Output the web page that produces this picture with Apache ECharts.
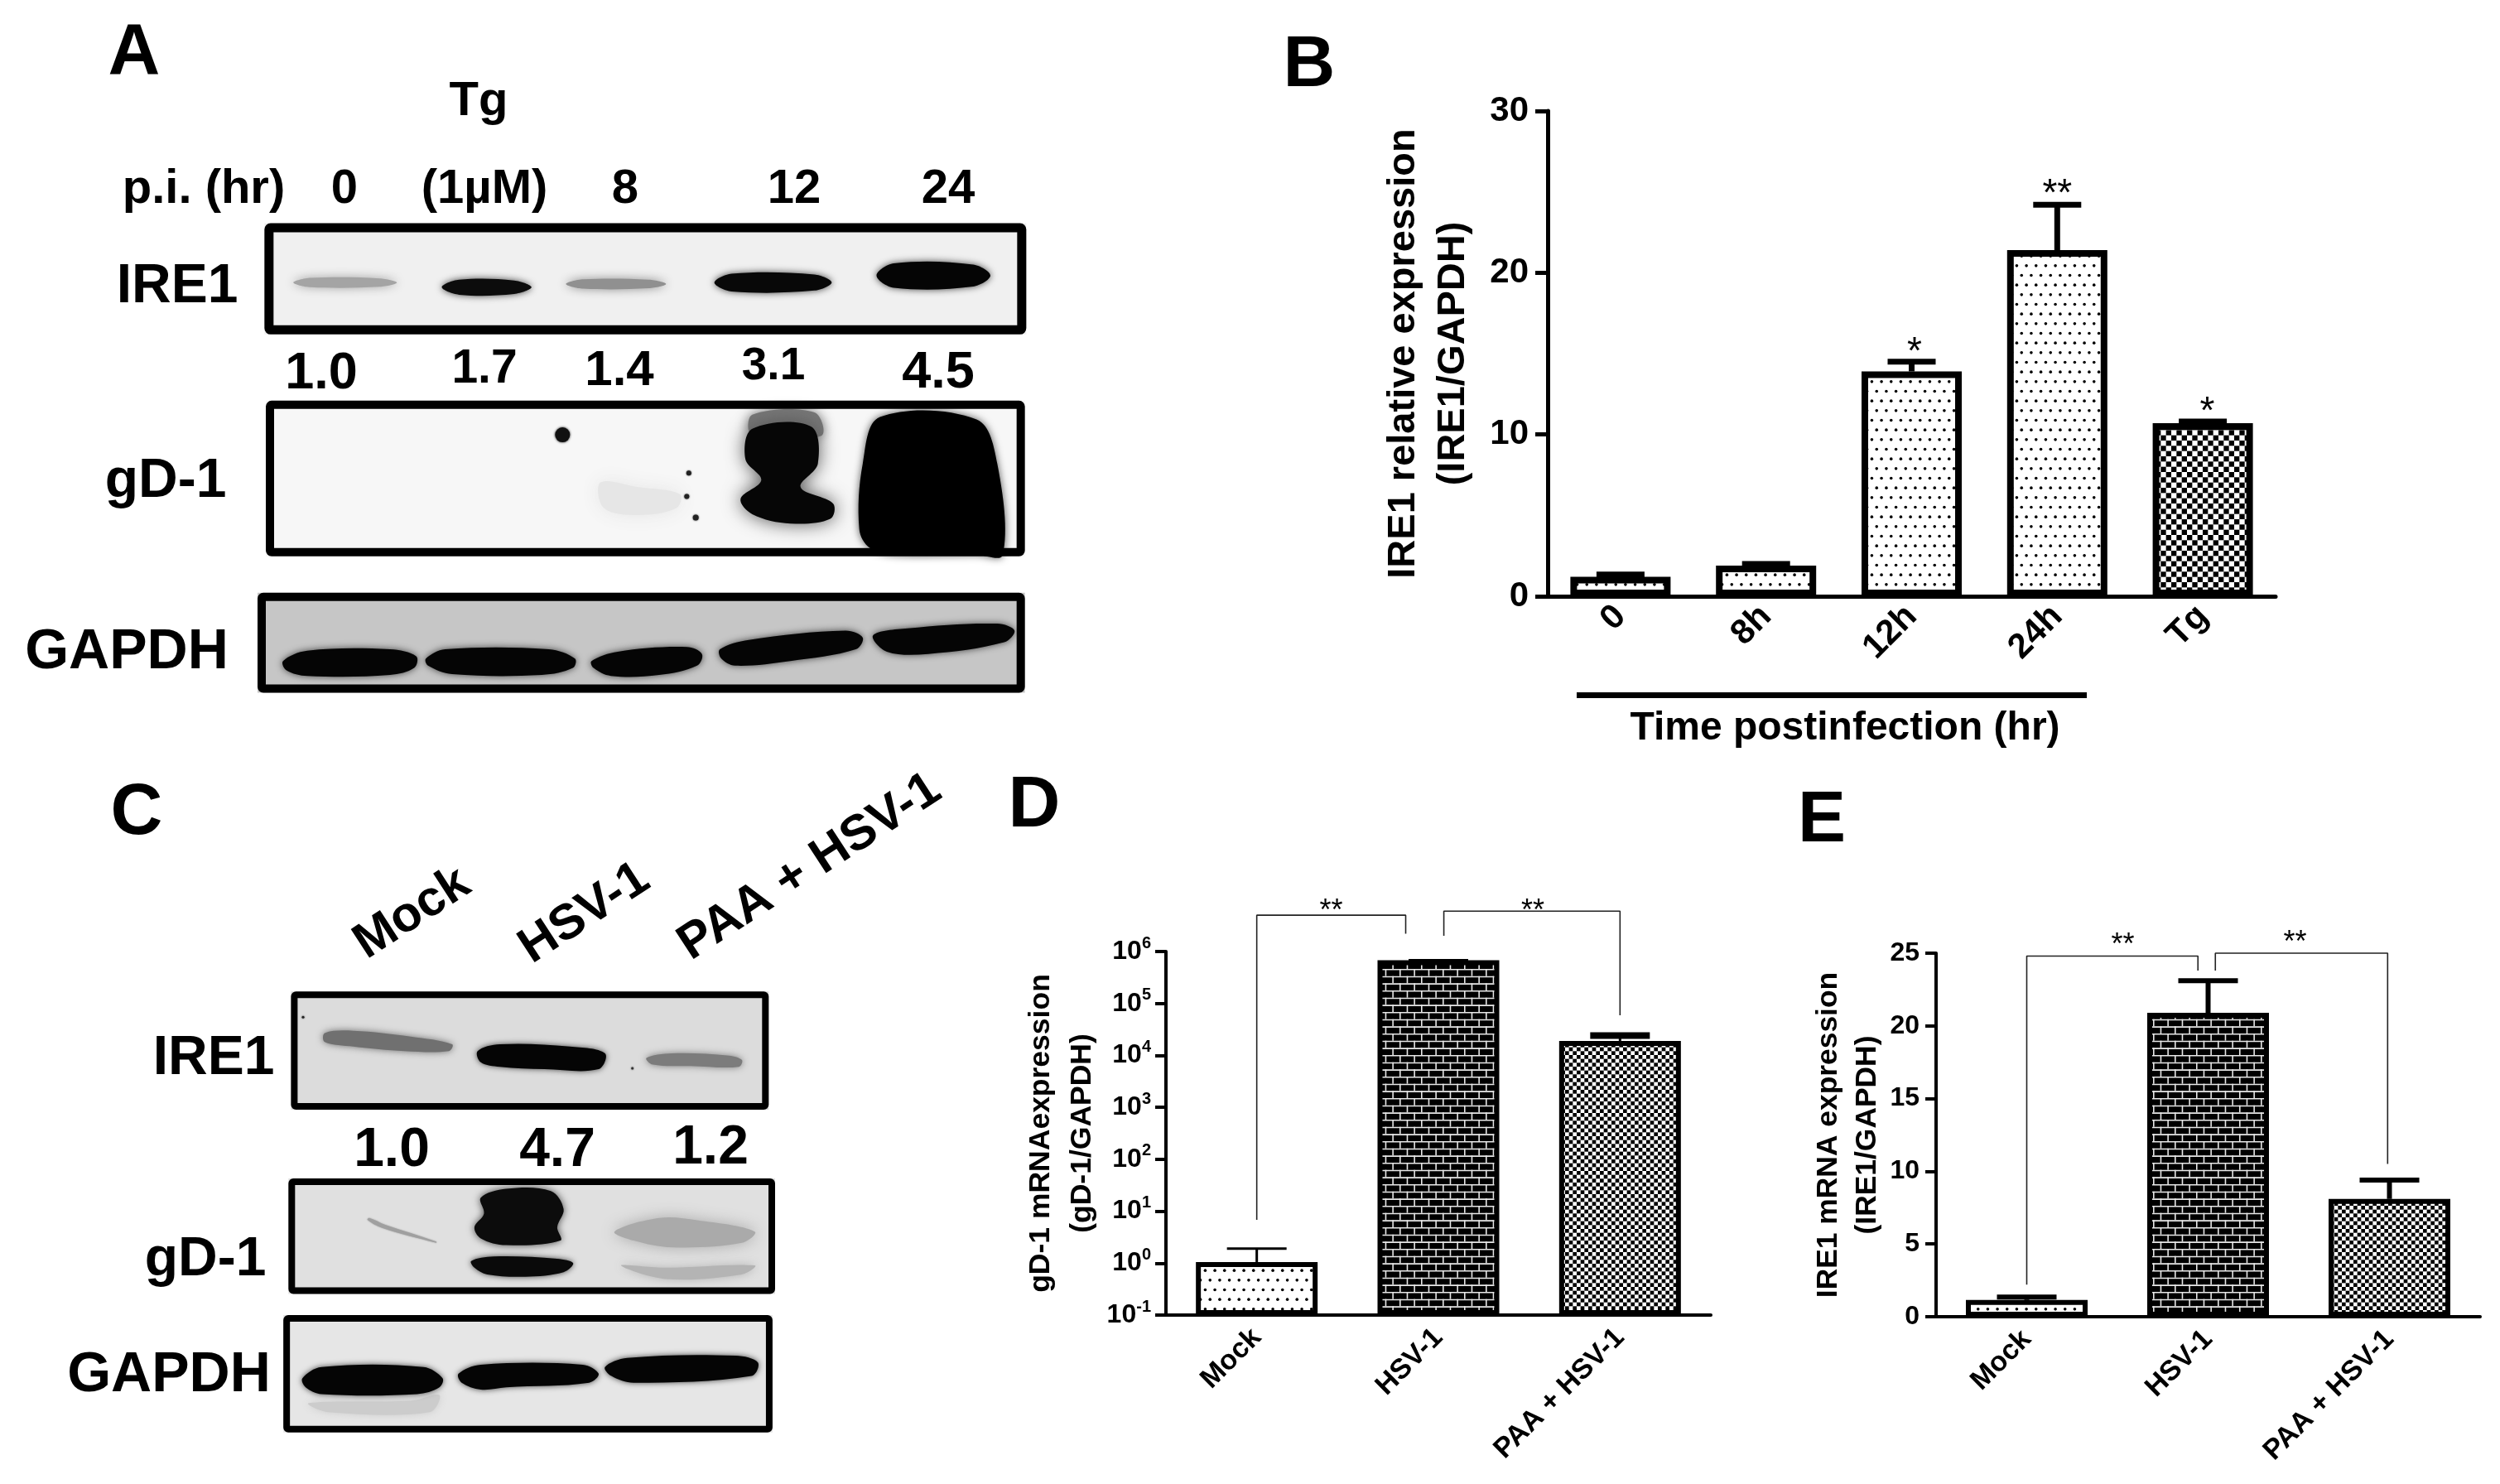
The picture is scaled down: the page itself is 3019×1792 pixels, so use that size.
<!DOCTYPE html>
<html><head><meta charset="utf-8"><style>html,body{margin:0;background:#fff}#c{width:3019px;height:1792px}</style>
<script src="https://cdn.jsdelivr.net/npm/echarts@6/dist/echarts.min.js"></script></head><body><div id="c"></div><script>
// ---------- data ----------
const bCategories = ['0','8h','12h','24h','Tg'];
const bValues = [1.2,1.9,13.9,21.4,10.7];
const bUpper  = [1.35,2.0,14.5,24.2,10.8];
const cdeCategories = ['Mock','HSV-1','PAA + HSV-1'];
const dValues = [1.05,680000,19000];
const dUpper  = [1.9,680000,24000];
const eValues = [1.15,20.9,8.1];
const eUpper  = [1.35,23.1,9.4];
const bStars = [[2.02,15.5,'*'],[3,25.3,'**'],[4.03,11.8,'*']];
const dStars = [[0.41,7.5e6,'**'],[1.52,7.6e6,'**']];
const eStars = [[0.53,25.9,'**'],[1.48,26.1,'**']];
const dBrackets = [[[0,6.8],[0,5e6],[0.82,5e6],[0.82,2.2e6]],[[1.03,2e6],[1.03,6e6],[2,6e6],[2,5.9e4]]];
const eBrackets = [[[0,2.2],[0,24.8],[0.944,24.8],[0.944,23.8]],[[1.04,23.8],[1.04,25],[1.99,25],[1.99,10.5]]];
const aLanes = ['0','(1µM)','8','12','24'];
const aRatios = ['1.0','1.7','1.4','3.1','4.5'];
const cLanes = ['Mock','HSV-1','PAA + HSV-1'];
const cRatios = ['1.0','4.7','1.2'];

// ---------- fill patterns ----------
function tile(w,h,draw){const c=document.createElement('canvas');c.width=w;c.height=h;const g=c.getContext('2d');g.fillStyle='#fff';g.fillRect(0,0,w,h);g.fillStyle='#000';g.strokeStyle='#000';draw(g);return {image:c,repeat:'repeat'};}
const dots = tile(70,70,g=>{const s=70/6;for(let r=0;r<6;r++)for(let k=0;k<6;k++){g.beginPath();g.arc((k+(r%2?0.75:0.25))*s,(r+.5)*s,1.8,0,7);g.fill();}});
const bricks = tile(52,52,g=>{g.fillStyle='#000';g.fillRect(0,0,52,52);g.strokeStyle='#e8e8e8';g.lineWidth=1.6;const h=52/6,w=52/3;for(let r=0;r<6;r++){g.beginPath();g.moveTo(0,r*h+.8);g.lineTo(52,r*h+.8);g.stroke();for(let k=0;k<3;k++){const x=(k+(r%2?.5:0))*w+.8;g.beginPath();g.moveTo(x,r*h);g.lineTo(x,r*h+h);g.stroke();}}});
const checkB = tile(38,38,g=>{const n=38/6;for(let r=0;r<6;r++)for(let k=0;k<6;k++)if((r+k)%2)g.fillRect(k*n,r*n,n,n);});
const checkD = tile(28,28,g=>{const n=28/6;for(let r=0;r<6;r++)for(let k=0;k<6;k++)if((r+k)%2)g.fillRect(k*n,r*n,n,n);});

// ---------- chart helpers ----------
const F='"Liberation Sans",Arial,sans-serif';
function bars(xi,yi,vals,fills,bw,bord){return {type:'bar',xAxisIndex:xi,yAxisIndex:yi,barWidth:bw,animation:false,z:3,
  data:vals.map((v,i)=>({value:v,itemStyle:{color:fills[i],borderColor:'#000',borderWidth:bord}}))};}
function errs(xi,yi,vals,up,cap,lw,thick){return {type:'custom',xAxisIndex:xi,yAxisIndex:yi,animation:false,z:2,
  data:vals.map((v,i)=>[i,v,up[i]]),encode:{x:0,y:[1,2]},clip:false,
  renderItem(p,api){const i=api.value(0),a=api.coord([i,api.value(1)]),b=api.coord([i,api.value(2)]);
    const w=thick&&thick[i]?thick[i]:lw;
    return {type:'group',children:[
      {type:'line',shape:{x1:a[0],y1:a[1],x2:b[0],y2:b[1]},style:{stroke:'#000',lineWidth:lw}},
      {type:'line',shape:{x1:b[0]-cap/2,y1:b[1],x2:b[0]+cap/2,y2:b[1]},style:{stroke:'#000',lineWidth:w}}]};}};}
function stars(xi,yi,list,fs){return {type:'custom',xAxisIndex:xi,yAxisIndex:yi,animation:false,clip:false,z:5,
  data:list.map(s=>[s[0],s[1]]),encode:{x:0,y:1},
  renderItem(p,api){const c=api.coord([api.value(0),api.value(1)]);
    return {type:'text',x:c[0],y:c[1]+fs*0.2,style:{text:list[p.dataIndex][2],fill:'#000',font:fs+'px '+F,align:'center',verticalAlign:'middle'}};}};}
function bracket(xi,yi,pts){return {type:'line',xAxisIndex:xi,yAxisIndex:yi,data:pts,symbol:'none',clip:false,animation:false,lineStyle:{color:'#222',width:1.6},z:4};}
const hiddenX=g=>({type:'value',gridIndex:g,show:false,min:-0.5,max:g==0?4.5:2.5});
function catX(g,data,opt){return {type:'category',gridIndex:g,data,boundaryGap:true,
  axisLine:{lineStyle:{color:'#000',width:opt.lw},onZero:false},axisTick:{alignWithLabel:true,length:opt.tick,lineStyle:{color:'#000',width:opt.lw}},
  axisLabel:{rotate:45,interval:0,margin:opt.margin,color:'#000',fontFamily:F,fontWeight:'bold',fontSize:opt.fs},splitLine:{show:false}};}
function valY(g,opt){return Object.assign({gridIndex:g,nameLocation:'middle',nameRotate:90,name:opt.name,nameGap:opt.gap,
  nameTextStyle:{color:'#000',fontFamily:F,fontWeight:'bold',fontSize:opt.nfs,lineHeight:opt.lh},
  axisLine:{show:true,onZero:false,lineStyle:{color:'#000',width:opt.lw}},axisTick:{show:true,length:opt.tick,lineStyle:{color:'#000',width:opt.lw}},
  axisLabel:{color:'#000',fontFamily:F,fontWeight:'bold',fontSize:opt.fs,margin:opt.margin},splitLine:{show:false}},opt.extra);}

// ---------- western blot drawings ----------
const Z1=p=>[p[0]/1.2-4,p[1]/1.773-(p[1]>1200?5:p[1]>800?4:0)], Z3=p=>[p[0]/1.3-4,920+p[1]/1.835-5];
const G=[];
function frame(Z,x0,y0,x1,y1,lw,bg){const a=Z([x0,y0]),b=Z([x1,y1]);
  G.push({type:'rect',z:0,shape:{x:a[0],y:a[1],width:b[0]-a[0],height:b[1]-a[1]},style:{fill:bg}});
  return ()=>G.push({type:'rect',z:2,shape:{x:a[0]+lw/2,y:a[1]+lw/2,width:b[0]-a[0]-lw,height:b[1]-a[1]-lw,r:2},style:{fill:'none',stroke:'#000',lineWidth:lw}});}
function band(Z,pts,col,blur,sc){G.push({type:'polygon',z:1,shape:{points:pts.map(Z),smooth:0.35},style:{fill:col,shadowBlur:blur,shadowColor:sc||col}});}
function spot(Z,cx,cy,r,col,blur){const c=Z([cx,cy]);G.push({type:'circle',z:1,shape:{cx:c[0],cy:c[1],r},style:{fill:col,shadowBlur:blur||2,shadowColor:col}});}
function pill(Z,x0,x1,y,h,col,blur,ss){const d=h/2;band(Z,[[x0,y],[x0+25,y-d],[x1-25,y-d*.9],[x1,y],[x1-25,y+d*.9],[x0+25,y+d]],col,blur,ss);}
let end;
// A IRE1
end=frame(Z1,388,478,1492,716,11,'#f0f0f0');
pill(Z1,430,580,605,20,'#a4a4a4',12);pill(Z1,645,775,615,32,'#0c0c0c',9,'#444');pill(Z1,825,970,608,20,'#909090',12);
pill(Z1,1040,1210,605,38,'#080808',9,'#444');pill(Z1,1275,1440,590,52,'#050505',9,'#444');end();
// A gD-1
end=frame(Z1,390,865,1490,1198,10,'#f7f7f7');
band(Z1,[[875,1040],[930,1050],[990,1065],[985,1095],[930,1110],[880,1095]],'#e6e6e6',22);
band(Z1,[[1095,895],[1185,890],[1195,940],[1095,940]],'#777',14);
band(Z1,[[1095,925],[1180,920],[1190,1000],[1165,1050],[1212,1085],[1208,1118],[1150,1128],[1095,1108],[1078,1075],[1108,1035],[1085,990]],'#060606',22,'#555');
band(Z1,[[1280,900],[1420,905],[1450,1000],[1458,1195],[1420,1195],[1300,1195],[1265,1180],[1250,1140],[1255,1000]],'#000',10,'#555');
spot(Z1,820,938,9,'#111',3);spot(Z1,1003,1020,3,'#222');spot(Z1,1000,1070,3,'#222');spot(Z1,1013,1115,3.5,'#222');end();
// A GAPDH
end=frame(Z1,378,1278,1490,1492,10,'#c6c6c6');
[[[415,1430],[450,1408],[570,1405],[608,1420],[605,1445],[570,1460],[450,1462],[420,1450]],
 [[622,1425],[650,1405],[800,1405],[838,1425],[835,1445],[790,1460],[660,1458],[625,1440]],
 [[862,1430],[900,1410],[1000,1400],[1022,1415],[1015,1440],[960,1460],[890,1462],[865,1445]],
 [[1048,1405],[1090,1385],[1230,1365],[1255,1380],[1245,1405],[1150,1430],[1070,1440],[1050,1425]],
 [[1270,1375],[1320,1360],[1450,1350],[1475,1365],[1460,1390],[1350,1415],[1290,1410]]].forEach(p=>band(Z1,p.map(q=>[q[0],q[1]-6]),'#050505',9,'#444'));end();
// C IRE1
end=frame(Z3,462,518,1212,780,8,'#dcdcdc');
band(Z3,[[515,610],[560,605],[650,618],[715,635],[710,650],[640,650],[560,640],[515,630]],'#707070',8);
band(Z3,[[755,650],[790,635],[900,640],[955,655],[945,690],[860,690],[790,685],[760,675]],'#050505',7,'#444');
band(Z3,[[1020,665],[1060,655],[1150,660],[1170,670],[1165,685],[1090,683],[1030,680]],'#7c7c7c',8);
spot(Z3,481,575,1.5,'#222');spot(Z3,998,688,1.5,'#333');end();
// C gD-1
end=frame(Z3,458,932,1222,1188,8,'#e0e0e0');
band(Z3,[[970,1050],[1040,1020],[1100,1025],[1190,1050],[1170,1075],[1060,1085],[1000,1070]],'#aaaaaa',18);
band(Z3,[[980,1125],[1050,1130],[1190,1125],[1170,1145],[1050,1155]],'#b4b4b4',12);
band(Z3,[[760,975],[800,955],[870,960],[890,1000],[880,1040],[885,1070],[800,1080],[760,1065],[750,1040],[765,1010]],'#0c0c0c',10,'#444');
band(Z3,[[745,1115],[780,1105],[880,1110],[905,1120],[890,1140],[830,1150],[770,1145],[750,1130]],'#0a0a0a',7,'#444');
band(Z3,[[585,1020],[610,1035],[690,1072],[690,1075],[605,1042],[582,1024]],'#a0a0a0',2);end();
// C GAPDH
end=frame(Z3,450,1235,1218,1495,8,'#e6e6e6');
band(Z3,[[490,1430],[650,1425],[695,1412],[680,1450],[520,1450]],'#cccccc',10);
band(Z3,[[480,1375],[510,1350],[670,1350],[700,1375],[695,1395],[660,1410],[510,1410],[485,1395]],'#050505',7,'#444');
band(Z3,[[725,1365],[760,1345],[920,1345],[945,1365],[930,1385],[800,1395],[760,1400],[730,1385]],'#050505',7,'#444');
band(Z3,[[955,1350],[990,1330],[1160,1325],[1195,1340],[1185,1370],[1000,1385],[965,1370]],'#050505',7,'#444');end();

// ---------- text ----------
function T(s,x,y,fs,rot){G.push({type:'text',z:3,x,y:y+fs*0.07,rotation:(rot||0)*Math.PI/180,style:{text:s,fill:'#000',font:'bold '+fs+'px '+F,align:'center',verticalAlign:'middle'}});}
T('A',162,59,87);T('B',1581,74,87);T('C',165,977,87);T('D',1249,968,87);T('E',2200,986,87);
T('Tg',578,119,58);T('p.i. (hr)',246,225,58);
const aX=[416,585,755,959,1145];aLanes.forEach((s,i)=>T(s,aX[i],225,58));
T('IRE1',214,342,66);T('gD-1',200,577,66);T('GAPDH',153,783,68);
const aRX=[388,585,748,934,1133],aRY=[447,442,444,439,446],aRF=[63,57,60,55,63];aRatios.forEach((s,i)=>T(s,aRX[i],aRY[i],aRF[i]));
const cLX=[498,706,978],cLY=[1099,1099,1043];cLanes.forEach((s,i)=>T(s,cLX[i],cLY[i],60,33));
T('IRE1',258,1274,66);T('gD-1',248,1517,66);T('GAPDH',204,1656,68);
const cRX=[473,673,858],cRY=[1385,1385,1382];cRatios.forEach((s,i)=>T(s,cRX[i],cRY[i],66));
T('Time postinfection (hr)',2228,876,48);
G.push({type:'rect',z:3,shape:{x:1904,y:836,width:616,height:7},style:{fill:'#000'}});

// ---------- option ----------
const option={backgroundColor:'#fff',animation:false,
 grid:[{left:1869,top:134,width:879,height:586},{left:1408,top:1149,width:658,height:439},{left:2338,top:1151,width:657,height:439}],
 xAxis:[catX(0,bCategories,{lw:5,tick:17,margin:18,fs:42}),hiddenX(0),catX(1,cdeCategories,{lw:4,tick:14,margin:22,fs:34}),hiddenX(1),catX(2,cdeCategories,{lw:4,tick:14,margin:22,fs:34}),hiddenX(2)],
 yAxis:[valY(0,{name:'IRE1 relative expression\n(IRE1/GAPDH)',gap:84,nfs:47,lh:60,lw:5,tick:15,fs:42,margin:23,extra:{type:'value',min:0,max:30,interval:10}}),
  valY(1,{name:'gD-1 mRNAexpression\n(gD-1/GAPDH)',gap:76,nfs:35.5,lh:50,lw:4,tick:13,fs:32,margin:18,extra:{type:'log',logBase:10,min:0.1,max:1000000,startValue:0.1,minorTick:{show:false},splitNumber:7}}),
  valY(2,{name:'IRE1 mRNA expression\n(IRE1/GAPDH)',gap:57,nfs:35.4,lh:47,lw:4,tick:13,fs:32,margin:20,extra:{type:'value',min:0,max:25,interval:5}})],
 graphic:{elements:G},
 series:[
  errs(0,0,bValues,bUpper,58,7),bars(0,0,bValues,[dots,dots,dots,dots,checkB],121,8),stars(1,0,bStars,46),
  errs(2,1,dValues,dUpper,72,3,[0,0,8]),bars(2,1,dValues,[dots,bricks,checkD],147,6),stars(3,1,dStars,36),...dBrackets.map(b=>bracket(3,1,b)),
  errs(4,2,eValues,eUpper,72,6),bars(4,2,eValues,[dots,bricks,checkD],147,6),stars(5,2,eStars,36),...eBrackets.map(b=>bracket(5,2,b))
 ]};
option.yAxis[1].axisLabel.formatter=v=>'{b|10}{s|'+Math.round(Math.log10(v))+'}';
option.yAxis[1].axisLabel.rich={b:{fontFamily:F,fontWeight:'bold',fontSize:32,color:'#000'},s:{fontFamily:F,fontWeight:'bold',fontSize:20,color:'#000',verticalAlign:'bottom',padding:[0,0,20,0]}};
echarts.init(document.getElementById('c')).setOption(option);
</script></body></html>
